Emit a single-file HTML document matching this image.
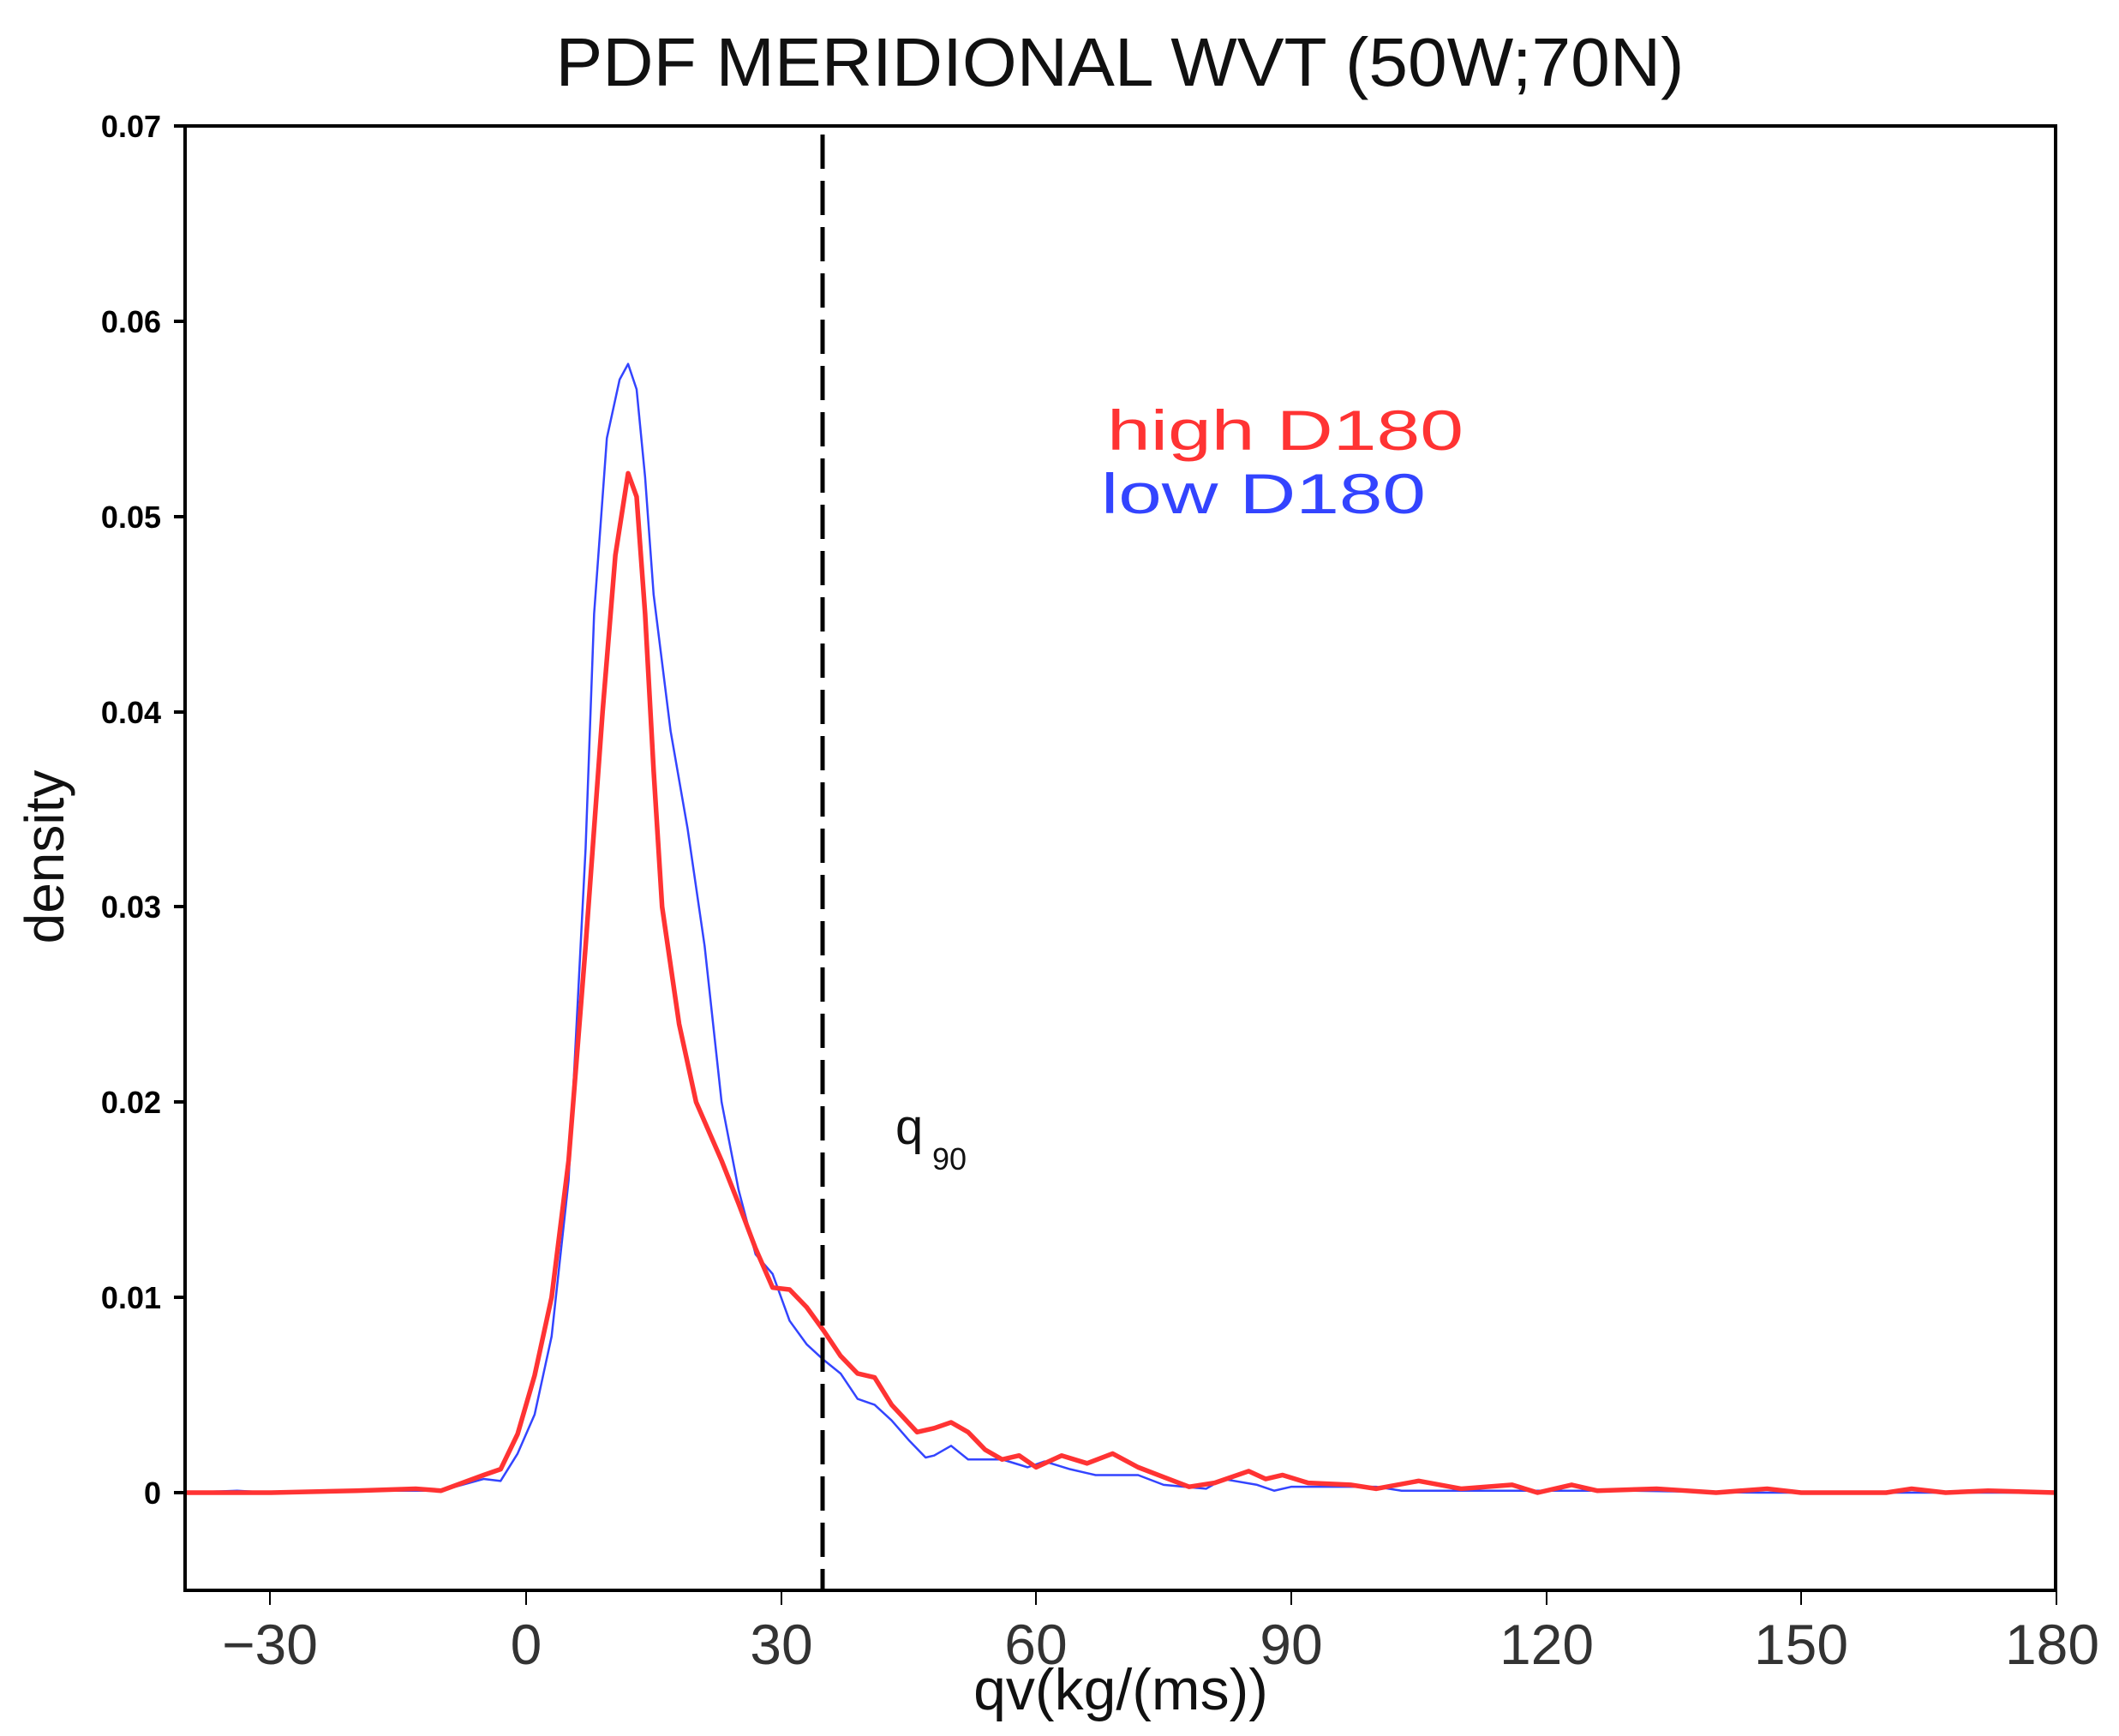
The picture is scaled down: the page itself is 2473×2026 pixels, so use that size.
<!DOCTYPE html>
<html><head><meta charset="utf-8"><style>html,body{margin:0;padding:0;background:#fff}svg{display:block}</style></head>
<body>
<svg width="2473" height="2026" viewBox="0 0 2473 2026" xmlns="http://www.w3.org/2000/svg" font-family="Liberation Sans, DejaVu Sans, sans-serif">
<rect width="2473" height="2026" fill="#fff"/>
<text x="1307" y="100" font-size="80" text-anchor="middle" textLength="1317" lengthAdjust="spacingAndGlyphs" fill="#111">PDF  MERIDIONAL  WVT  (50W;70N)</text>
<g transform="translate(614,1742) scale(9.92,-22790)">
<polyline fill="none" stroke="#3344ff" stroke-width="2.5" vector-effect="non-scaling-stroke" stroke-linejoin="round" points="-40,0 -34,0.0001 -30,0 -20,0.0001 -13,0.0001 -10,0.0001 -5,0.0007 -3,0.0006 -1,0.002 1,0.004 3,0.008 5,0.016 7,0.033 8,0.045 9.5,0.054 11,0.057 12,0.0578 13,0.0565 14,0.052 15,0.046 17,0.039 19,0.034 21,0.028 23,0.02 25,0.0155 27,0.0122 29,0.0112 31,0.0088 33,0.0076 35,0.0068 37,0.0061 39,0.0048 41,0.0045 43,0.0037 45,0.0027 47,0.0018 48,0.0019 50,0.0024 52,0.0017 56,0.0017 59,0.0013 61,0.0016 64,0.0012 67,0.0009 72,0.0009 75,0.0004 80,0.0002 82,0.0007 86,0.0004 88,0.0001 90,0.0003 96,0.0003 100,0.0003 103,0.0001 110,0.0001 130,0.0001 145,0 180,0"/>
<polyline fill="none" stroke="#ff3333" stroke-width="5.5" vector-effect="non-scaling-stroke" stroke-linejoin="round" points="-40,0 -30,0 -20,0.0001 -13,0.0002 -10,0.0001 -5,0.0009 -3,0.0012 -1,0.003 1,0.006 3,0.01 5,0.017 7,0.028 9,0.04 10.5,0.048 12,0.0522 13,0.051 14,0.045 15,0.037 16,0.03 18,0.024 20,0.02 23,0.017 25,0.0148 27,0.0125 29,0.0105 31,0.0104 33,0.0095 35,0.0083 37,0.007 39,0.0061 41,0.0059 43,0.0045 46,0.0031 48,0.0033 50,0.0036 52,0.0031 54,0.0022 56,0.0017 58,0.0019 60,0.0013 63,0.0019 66,0.0015 69,0.002 72,0.0013 75,0.0008 78,0.0003 81,0.0005 85,0.0011 87,0.0007 89,0.0009 92,0.0005 97,0.0004 100,0.0002 105,0.0006 110,0.0002 116,0.0004 119,0 123,0.0004 126,0.0001 133,0.0002 140,0 146,0.0002 150,0 160,0 163,0.0002 167,0 172,0.0001 180,0"/>
</g>
<line x1="960" y1="157" x2="960" y2="1856" stroke="#000" stroke-width="5" stroke-dasharray="40,14"/>
<rect x="216" y="147" width="2183" height="1709" fill="none" stroke="#000" stroke-width="4"/>
<g stroke="#000" stroke-width="4">
<line x1="203" y1="147" x2="216" y2="147"/><line x1="203" y1="375" x2="216" y2="375"/><line x1="203" y1="603" x2="216" y2="603"/><line x1="203" y1="831" x2="216" y2="831"/><line x1="203" y1="1058" x2="216" y2="1058"/><line x1="203" y1="1286" x2="216" y2="1286"/><line x1="203" y1="1514" x2="216" y2="1514"/><line x1="203" y1="1742" x2="216" y2="1742"/>
</g>
<g stroke="#000" stroke-width="2">
<line x1="315" y1="1856" x2="315" y2="1873"/><line x1="614" y1="1856" x2="614" y2="1873"/><line x1="912" y1="1856" x2="912" y2="1873"/><line x1="1209" y1="1856" x2="1209" y2="1873"/><line x1="1507" y1="1856" x2="1507" y2="1873"/><line x1="1805" y1="1856" x2="1805" y2="1873"/><line x1="2102" y1="1856" x2="2102" y2="1873"/><line x1="2400" y1="1856" x2="2400" y2="1873"/>
</g>
<g font-size="36" font-weight="bold" text-anchor="end" fill="#000">
<text x="188" y="160">0.07</text><text x="188" y="388">0.06</text><text x="188" y="616">0.05</text><text x="188" y="844">0.04</text><text x="188" y="1071">0.03</text><text x="188" y="1299">0.02</text><text x="188" y="1527">0.01</text><text x="188" y="1755">0</text>
</g>
<g font-size="66" text-anchor="middle" fill="#333">
<text x="315" y="1942">−30</text><text x="614" y="1942">0</text><text x="912" y="1942">30</text><text x="1209" y="1942">60</text><text x="1507" y="1942">90</text><text x="1805" y="1942">120</text><text x="2102" y="1942">150</text><text x="2395" y="1942">180</text>
</g>
<text x="1308" y="1995" font-size="68" text-anchor="middle" fill="#111">qv(kg/(ms))</text>
<text transform="translate(74,1000) rotate(-90)" font-size="64" text-anchor="middle" fill="#111">density</text>
<text x="1292" y="525" font-size="66" fill="#ff3333" textLength="416" lengthAdjust="spacingAndGlyphs">high  D180</text>
<text x="1285" y="599" font-size="66" fill="#3344ff" textLength="379" lengthAdjust="spacingAndGlyphs">low  D180</text>
<text x="1045" y="1335" font-size="58" fill="#111">q</text>
<text x="1088" y="1365" font-size="36" fill="#111">90</text>
</svg>
</body></html>
